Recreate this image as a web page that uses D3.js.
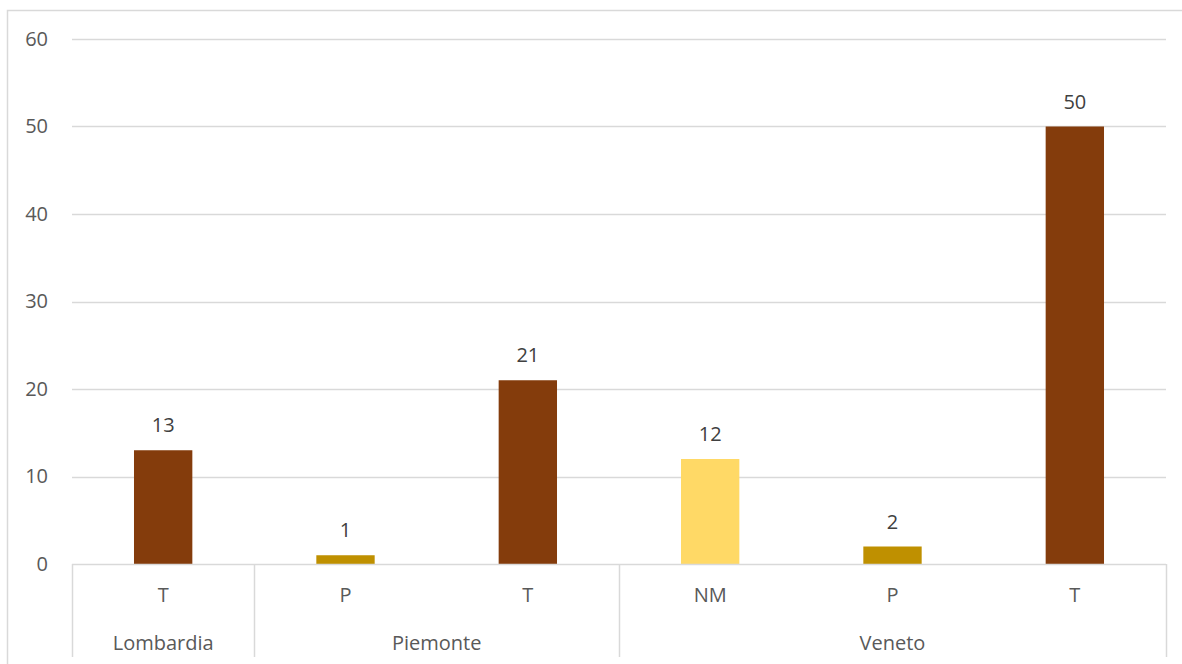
<!DOCTYPE html>
<html>
<head>
<meta charset="utf-8">
<script src="https://cdn.jsdelivr.net/npm/d3@7/dist/d3.min.js"></script>
<style>
  html, body { margin: 0; padding: 0; background: #fff; }
  svg { display: block; }
  text { font-family: "Open Sans", "Liberation Sans", sans-serif; }
</style>
</head>
<body>
<svg id="chart" width="1182" height="664"></svg>
<script>
// Sub-category label of each bar, its region, and its value
const types   = ["T", "P", "T", "NM", "P", "T"];
const regions = ["Lombardia", "Piemonte", "Piemonte", "Veneto", "Veneto", "Veneto"];
const values  = [13, 1, 21, 12, 2, 50];
const yTicks  = [0, 10, 20, 30, 40, 50, 60];

const typeColors = { T: "#843C0C", P: "#BF9000", NM: "#FFD966" };

const plot = { left: 72, right: 1166, top: 39, bottom: 564 };
const fontSize = 20;

const svg = d3.select("#chart");

// outer chart frame
svg.append("rect")
  .attr("x", 7.5).attr("y", 10.5)
  .attr("width", 1200).attr("height", 700)
  .attr("fill", "none").attr("stroke", "#D9D9D9").attr("stroke-width", 1.5);

const idx = d3.range(values.length);
const x = d3.scaleBand().domain(idx).range([plot.left, plot.right]).padding(0);
const y = d3.scaleLinear().domain([0, 60]).range([plot.bottom, plot.top]);

// horizontal gridlines
svg.append("g").selectAll("line")
  .data(yTicks.filter(t => t > 0))
  .join("line")
  .attr("x1", plot.left).attr("x2", plot.right)
  .attr("y1", d => Math.round(y(d)) + 0.5).attr("y2", d => Math.round(y(d)) + 0.5)
  .attr("stroke", "#D9D9D9").attr("stroke-width", 1.5);

// y axis labels
const yAxis = d3.axisLeft(y).tickValues(yTicks).tickSize(0).tickPadding(0)
  .tickFormat(d3.format("d"));
const gy = svg.append("g").attr("transform", "translate(48,0)").call(yAxis);
gy.select(".domain").remove();
gy.selectAll("text")
  .attr("font-family", '"Open Sans", sans-serif')
  .attr("font-size", fontSize).attr("fill", "#595959");

// bars
const barW = x.bandwidth() * 0.32;
svg.append("g").selectAll("rect")
  .data(idx)
  .join("rect")
  .attr("x", i => x(i) + (x.bandwidth() - barW) / 2)
  .attr("y", i => y(values[i]))
  .attr("width", barW)
  .attr("height", i => y(0) - y(values[i]))
  .attr("fill", i => typeColors[types[i]]);

// value labels
svg.append("g").selectAll("text")
  .data(idx)
  .join("text")
  .attr("x", i => x(i) + x.bandwidth() / 2)
  .attr("y", i => y(values[i]) - 18)
  .attr("text-anchor", "middle")
  .attr("font-size", fontSize).attr("fill", "#404040")
  .text(i => values[i]);

// baseline of the category axis
svg.append("line")
  .attr("x1", plot.left).attr("x2", plot.right)
  .attr("y1", plot.bottom + 0.5).attr("y2", plot.bottom + 0.5)
  .attr("stroke", "#D9D9D9").attr("stroke-width", 1.5);

// sub-category labels
const xAxis = d3.axisBottom(x).tickSize(0).tickPadding(0).tickFormat(i => types[i]);
const gx = svg.append("g").attr("transform", `translate(0,${plot.bottom})`).call(xAxis);
gx.select(".domain").remove();
gx.selectAll("text")
  .attr("font-family", '"Open Sans", sans-serif')
  .attr("font-size", fontSize).attr("fill", "#595959")
  .attr("dy", null).attr("y", 38);

// region groups: extent of consecutive bars sharing a region
const groups = [];
regions.forEach((r, i) => {
  const last = groups[groups.length - 1];
  if (last && last.name === r) last.end = i;
  else groups.push({ name: r, start: i, end: i });
});

const bounds = [x(groups[0].start)].concat(groups.map(g => x(g.end) + x.bandwidth()));
svg.append("g").selectAll("line")
  .data(bounds)
  .join("line")
  .attr("x1", d => Math.round(d) + 0.5).attr("x2", d => Math.round(d) + 0.5)
  .attr("y1", plot.bottom).attr("y2", 657)
  .attr("stroke", "#D9D9D9").attr("stroke-width", 1.5);

svg.append("g").selectAll("text")
  .data(groups)
  .join("text")
  .attr("x", g => (x(g.start) + x(g.end) + x.bandwidth()) / 2)
  .attr("y", 650)
  .attr("text-anchor", "middle")
  .attr("font-size", fontSize).attr("fill", "#595959")
  .text(g => g.name);
</script>
</body>
</html>
